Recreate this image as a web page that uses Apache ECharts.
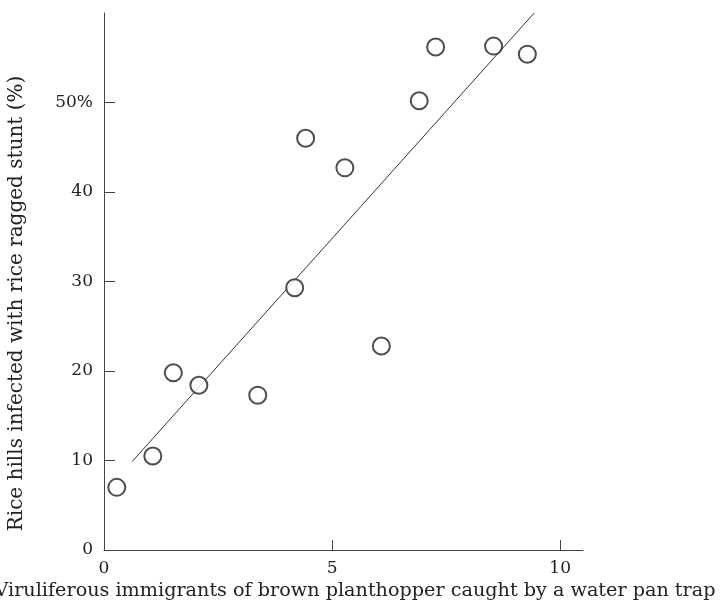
<!DOCTYPE html>
<html>
<head>
<meta charset="utf-8">
<script src="https://cdn.jsdelivr.net/npm/echarts@6/dist/echarts.min.js"></script>
<style>
html,body{margin:0;padding:0;background:#fff;}
#chart{width:723px;height:602px;}
</style>
</head>
<body>
<div id="chart"></div>
<script>
// Data
const xValues = [0.28, 1.07, 1.52, 2.08, 3.37, 4.18, 4.42, 5.28, 6.08, 6.91, 7.27, 8.54, 9.28];
const yValues = [7.0, 10.5, 19.8, 18.4, 17.3, 29.3, 46.0, 42.7, 22.8, 50.2, 56.2, 56.3, 55.4];
const fitLineX = [0.62, 9.43];
const fitLineY = [9.9, 60.0];
const xTicks = [0, 5, 10];
const yTicks = [0, 10, 20, 30, 40, 50];
const xTitle = 'Viruliferous immigrants of brown planthopper caught by a water pan trap';
const yTitle = 'Rice hills infected with rice ragged stunt (%)';

const FONT = 'DejaVu Serif';
const TEXT = '#222';
const AXIS = '#444';

const points = xValues.map((x, i) => [x, yValues[i]]);
const fitLine = fitLineX.map((x, i) => [x, fitLineY[i]]);

const chart = echarts.init(document.getElementById('chart'));
chart.setOption({
  animation: false,
  backgroundColor: '#fff',
  grid: { left: 104, right: 140, top: 13, bottom: 52, containLabel: false, outerBoundsMode: 'none' },
  xAxis: {
    type: 'value', min: 0, max: 10.5,
    name: xTitle, nameLocation: 'middle', nameGap: 28,
    nameTextStyle: { fontFamily: FONT, fontSize: 19.2, color: TEXT, padding: [0, 0, 0, 23] },
    axisLine: { show: true, lineStyle: { color: AXIS, width: 1 } },
    axisTick: { show: true, inside: true, length: 10, customValues: xTicks, lineStyle: { color: AXIS } },
    axisLabel: { customValues: xTicks, fontFamily: FONT, fontSize: 17, color: TEXT, margin: 10 },
    splitLine: { show: false }
  },
  yAxis: {
    type: 'value', min: 0, max: 60,
    name: yTitle, nameLocation: 'middle', nameGap: 77, nameRotate: 90,
    nameTextStyle: { fontFamily: FONT, fontSize: 20, color: TEXT, padding: [0, 44, 0, 0] },
    axisLine: { show: true, lineStyle: { color: AXIS, width: 1 } },
    axisTick: { show: true, inside: true, length: 11, customValues: yTicks, lineStyle: { color: AXIS } },
    axisLabel: {
      customValues: yTicks, fontFamily: FONT, fontSize: 17, color: TEXT, margin: 11,
      formatter: v => (v === 50 ? '50%' : String(v))
    },
    splitLine: { show: false }
  },
  series: [
    {
      type: 'line', data: fitLine, symbol: 'none', z: 1,
      lineStyle: { color: '#333', width: 1 }
    },
    {
      type: 'scatter', data: points, symbol: 'circle', symbolSize: 17, z: 3,
      itemStyle: { color: '#fff', borderColor: '#222', borderWidth: 2 }
    }
  ]
});
</script>
</body>
</html>
